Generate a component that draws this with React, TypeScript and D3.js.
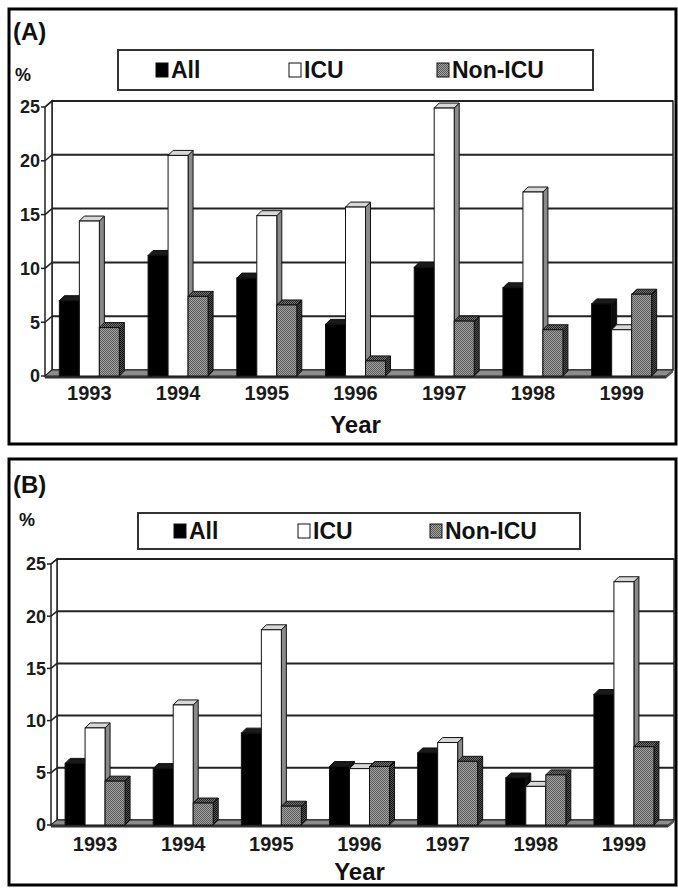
import { useEffect, useRef } from 'react';
import * as d3 from 'd3';

// data (percent)
const years = ['1993', '1994', '1995', '1996', '1997', '1998', '1999'];
const seriesNames = ['All', 'ICU', 'Non-ICU'];
const yTicks = [0, 5, 10, 15, 20, 25];

const allA = [7.0, 11.2, 9.1, 4.8, 10.1, 8.2, 6.7];
const icuA = [14.4, 20.5, 14.9, 15.7, 24.9, 17.1, 4.3];
const nonIcuA = [4.5, 7.4, 6.6, 1.4, 5.1, 4.3, 7.6];

const allB = [5.9, 5.4, 8.8, 5.6, 6.9, 4.5, 12.5];
const icuB = [9.3, 11.5, 18.7, 5.4, 7.9, 3.7, 23.3];
const nonIcuB = [4.2, 2.1, 1.8, 5.6, 6.1, 4.8, 7.5];

const FONT = 'Liberation Sans, Arial, Helvetica, sans-serif';

interface PanelCfg {
  id: string;
  label: string;
  values: number[][];
  frame: [number, number, number, number];
  labelPos: [number, number];
  pctPos: [number, number];
  legend: [number, number, number, number];
  legendItems: number[];
  xRange: [number, number];
  yRange: [number, number];
  depth: [number, number];
  yearY: number;
  titleY: number;
}

const panels: PanelCfg[] = [
  {
    id: 'a',
    label: '(A)',
    values: [allA, icuA, nonIcuA],
    frame: [9, 9, 667, 435],
    labelPos: [13, 40],
    pctPos: [15, 81],
    legend: [118, 50, 475, 40],
    legendItems: [156, 289, 437],
    xRange: [45, 666],
    yRange: [376, 107],
    depth: [7, -6],
    yearY: 400,
    titleY: 433,
  },
  {
    id: 'b',
    label: '(B)',
    values: [allB, icuB, nonIcuB],
    frame: [9, 459, 667, 426],
    labelPos: [13, 493],
    pctPos: [19, 526],
    legend: [138, 513, 442, 36],
    legendItems: [174, 298, 430],
    xRange: [51, 668],
    yRange: [825, 564],
    depth: [6, -5],
    yearY: 851,
    titleY: 880,
  },
];

const faceStyle = (id: string) => [
  { front: '#000', top: '#1a1a1a', side: '#0d0d0d' },
  { front: '#fff', top: '#d8d8d8', side: '#8a8a8a' },
  { front: `url(#pf-${id})`, top: `url(#pt-${id})`, side: `url(#ps-${id})` },
];

const pts = (arr: number[][]) => arr.map((d) => d.join(',')).join(' ');

const drawPanel = (root: d3.Selection<SVGSVGElement, unknown, null, undefined>, p: PanelCfg) => {
  const g = root.append('g');
  const [dx, dy] = p.depth;
  const [x0, x1] = p.xRange;

  // checker patterns for the Non-ICU bars
  const defs = g.append('defs');
  const mkPattern = (name: string, base: string, dot: string) => {
    const pat = defs
      .append('pattern')
      .attr('id', `${name}-${p.id}`)
      .attr('width', 2)
      .attr('height', 2)
      .attr('patternUnits', 'userSpaceOnUse');
    pat.append('rect').attr('width', 2).attr('height', 2).attr('fill', base);
    pat.append('rect').attr('width', 1).attr('height', 1).attr('fill', dot);
    pat.append('rect').attr('x', 1).attr('y', 1).attr('width', 1).attr('height', 1).attr('fill', dot);
  };
  mkPattern('pf', '#a8a8a8', '#555');
  mkPattern('pt', '#777', '#222');
  mkPattern('ps', '#555', '#111');

  // outer frame
  const [fx, fy, fw, fh] = p.frame;
  g.append('rect')
    .attr('x', fx)
    .attr('y', fy)
    .attr('width', fw)
    .attr('height', fh)
    .attr('fill', 'none')
    .attr('stroke', '#000')
    .attr('stroke-width', 3);

  g.append('text')
    .attr('x', p.labelPos[0])
    .attr('y', p.labelPos[1])
    .style('font', `bold 24px ${FONT}`)
    .attr('fill', '#111')
    .text(p.label);

  g.append('text')
    .attr('x', p.pctPos[0])
    .attr('y', p.pctPos[1])
    .style('font', `bold 18px ${FONT}`)
    .attr('fill', '#111')
    .text('%');

  // scales
  const x = d3.scaleBand<string>().domain(years).range([x0, x1]);
  const xSub = d3.scaleBand<string>().domain(seriesNames).range([0, 60]);
  const y = d3.scaleLinear().domain([0, 25]).range(p.yRange);
  const y0 = y(0);
  const yTop = y(25);

  // back wall
  g.append('rect')
    .attr('x', x0 + dx)
    .attr('y', yTop + dy)
    .attr('width', x1 - x0)
    .attr('height', y0 - yTop)
    .attr('fill', '#fff')
    .attr('stroke', '#222')
    .attr('stroke-width', 1.5);

  // left wall
  g.append('polygon')
    .attr('points', pts([[x0, y0], [x0 + dx, y0 + dy], [x0 + dx, yTop + dy], [x0, yTop]]))
    .attr('fill', '#fff')
    .attr('stroke', '#222')
    .attr('stroke-width', 1.5);

  // grid lines, wall diagonals and ticks
  yTicks.forEach((v) => {
    const yy = y(v);
    if (v > 0) {
      g.append('line')
        .attr('x1', x0 + dx)
        .attr('x2', x1 + dx)
        .attr('y1', yy + dy)
        .attr('y2', yy + dy)
        .attr('stroke', '#222')
        .attr('stroke-width', 2);
      g.append('line')
        .attr('x1', x0)
        .attr('x2', x0 + dx)
        .attr('y1', yy)
        .attr('y2', yy + dy)
        .attr('stroke', '#222')
        .attr('stroke-width', 1.5);
    }
    g.append('line')
      .attr('x1', x0 - 4)
      .attr('x2', x0)
      .attr('y1', yy)
      .attr('y2', yy)
      .attr('stroke', '#222')
      .attr('stroke-width', 1.5);
    g.append('text')
      .attr('x', x0 - 5)
      .attr('y', yy)
      .attr('dy', '0.36em')
      .attr('text-anchor', 'end')
      .style('font', `bold 18px ${FONT}`)
      .attr('fill', '#1a1a1a')
      .text(v);
  });

  // floor
  g.append('polygon')
    .attr('points', pts([[x0, y0], [x1, y0], [x1 + dx, y0 + dy], [x0 + dx, y0 + dy]]))
    .attr('fill', '#8c8c8c')
    .attr('stroke', '#222')
    .attr('stroke-width', 1);
  g.append('rect')
    .attr('x', x0)
    .attr('y', y0)
    .attr('width', x1 - x0)
    .attr('height', 2.5)
    .attr('fill', '#333');
  g.append('polygon')
    .attr('points', pts([[x1, y0], [x1 + dx, y0 + dy], [x1 + dx, y0 + dy + 2.5], [x1, y0 + 2.5]]))
    .attr('fill', '#555');

  // 3D bars
  const styles = faceStyle(p.id);
  const bw = xSub.bandwidth();
  const bdx = 5;
  const bdy = -5;
  years.forEach((yr, i) => {
    const gx = (x(yr) as number) + (x.bandwidth() - 60) / 2;
    seriesNames.forEach((s, k) => {
      const v = p.values[k][i];
      const bx = gx + (xSub(s) as number);
      const by = y(v);
      const st = styles[k];
      const bar = g.append('g');
      bar
        .append('polygon')
        .attr('points', pts([[bx + bw, y0], [bx + bw + bdx, y0 + bdy], [bx + bw + bdx, by + bdy], [bx + bw, by]]))
        .attr('fill', st.side)
        .attr('stroke', '#111')
        .attr('stroke-width', 1);
      bar
        .append('polygon')
        .attr('points', pts([[bx, by], [bx + bdx, by + bdy], [bx + bw + bdx, by + bdy], [bx + bw, by]]))
        .attr('fill', st.top)
        .attr('stroke', '#111')
        .attr('stroke-width', 1);
      bar
        .append('rect')
        .attr('x', bx)
        .attr('y', by)
        .attr('width', bw)
        .attr('height', y0 - by)
        .attr('fill', st.front)
        .attr('stroke', '#111')
        .attr('stroke-width', 1);
    });

    g.append('text')
      .attr('x', (x(yr) as number) + x.bandwidth() / 2)
      .attr('y', p.yearY)
      .attr('text-anchor', 'middle')
      .style('font', `bold 20px ${FONT}`)
      .attr('fill', '#1a1a1a')
      .text(yr);
  });

  g.append('text')
    .attr('x', (x0 + x1) / 2)
    .attr('y', p.titleY)
    .attr('text-anchor', 'middle')
    .style('font', `bold 24px ${FONT}`)
    .attr('fill', '#111')
    .text('Year');

  // legend
  const [lx, ly, lw, lh] = p.legend;
  g.append('rect')
    .attr('x', lx)
    .attr('y', ly)
    .attr('width', lw)
    .attr('height', lh)
    .attr('fill', '#fff')
    .attr('stroke', '#333')
    .attr('stroke-width', 2);
  seriesNames.forEach((s, k) => {
    const sx = p.legendItems[k];
    const cy = ly + lh / 2;
    g.append('rect')
      .attr('x', sx)
      .attr('y', cy - 7)
      .attr('width', 12)
      .attr('height', 14)
      .attr('fill', styles[k].front)
      .attr('stroke', '#111')
      .attr('stroke-width', 1);
    g.append('text')
      .attr('x', sx + 15)
      .attr('y', cy + 8)
      .style('font', `bold 23px ${FONT}`)
      .attr('fill', '#111')
      .text(s);
  });
};

export default function App() {
  const svgRef = useRef<SVGSVGElement>(null);

  useEffect(() => {
    if (!svgRef.current) return;
    const svg = d3.select(svgRef.current);
    svg.selectAll('*').remove();
    svg.append('rect').attr('width', 678).attr('height', 888).attr('fill', '#fff');
    panels.forEach((p) => drawPanel(svg, p));
  }, []);

  return (
    <svg
      ref={svgRef}
      width={678}
      height={888}
      style={{ position: 'absolute', left: 0, top: 0, display: 'block' }}
    />
  );
}
